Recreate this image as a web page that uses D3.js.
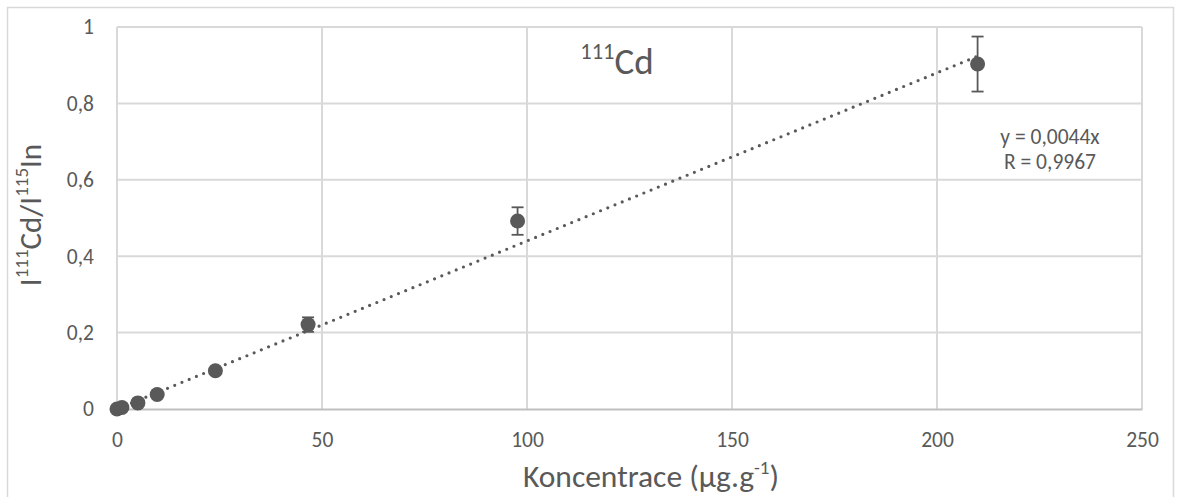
<!DOCTYPE html>
<html>
<head>
<meta charset="utf-8">
<script src="https://cdn.jsdelivr.net/npm/d3@7/dist/d3.min.js"></script>
<style>
  html, body { margin: 0; padding: 0; background: #ffffff; }
  svg { display: block; }
  text { font-family: Carlito, Calibri, Lato, "Open Sans", sans-serif; fill: #595959; }
</style>
</head>
<body>
<svg id="chart" width="1177" height="497"></svg>
<script>
// Calibration data for 111Cd (ratio to 115In internal standard)
const concentration = [0, 1.2, 5.1, 9.8, 24.0, 46.6, 97.7, 209.9];
const ratio         = [0, 0.004, 0.016, 0.038, 0.100, 0.221, 0.492, 0.903];
const ratioError    = [0, 0.002, 0.003, 0.004, 0.006, 0.019, 0.036, 0.072];

// Linear fit through the origin
const slope = 0.0044;
const fitLabel = ["y = 0,0044x", "R = 0,9967"];

const xTicks = [0, 50, 100, 150, 200, 250];
const yTicks = [0, 0.2, 0.4, 0.6, 0.8, 1];

const ink = "#595959";
const gridColor = "#d9d9d9";
const axisColor = "#bfbfbf";
const tickFont = "21.5px";

const svg = d3.select("#chart");
const locale = d3.formatLocale({ decimal: ",", thousands: " ", grouping: [3], currency: ["", ""] });
const fmt = locale.format("~g");

const x = d3.scaleLinear().domain([0, 250]).range([117, 1142]);
const y = d3.scaleLinear().domain([0, 1]).range([409, 27]);

// Chart area frame
svg.append("rect")
  .attr("x", 7.5).attr("y", 7.5)
  .attr("width", 1166).attr("height", 520)
  .attr("fill", "#ffffff")
  .attr("stroke", gridColor).attr("stroke-width", 1.5);

// Gridlines
const grid = svg.append("g");
grid.selectAll("line.h").data(yTicks.filter(d => d > 0)).join("line")
  .attr("x1", x(0)).attr("x2", x(250))
  .attr("y1", d => y(d)).attr("y2", d => y(d))
  .attr("stroke", gridColor).attr("stroke-width", 2);
grid.selectAll("line.v").data(xTicks).join("line")
  .attr("x1", d => x(d)).attr("x2", d => x(d))
  .attr("y1", y(0)).attr("y2", y(1))
  .attr("stroke", gridColor).attr("stroke-width", 2);

// Axes
const xAxis = svg.append("g")
  .attr("transform", `translate(0,${y(0)})`)
  .call(d3.axisBottom(x).tickValues(xTicks).tickFormat(fmt).tickSize(0).tickPadding(23));
xAxis.select(".domain").attr("stroke", axisColor).attr("stroke-width", 2);
xAxis.selectAll("text").attr("font-size", tickFont).attr("fill", ink)
  .style("font-family", "Carlito, Calibri, Lato, sans-serif");

const yAxis = svg.append("g")
  .attr("transform", `translate(${x(0)},0)`)
  .call(d3.axisLeft(y).tickValues(yTicks).tickFormat(fmt).tickSize(0).tickPadding(23));
yAxis.select(".domain").remove();
yAxis.selectAll("text").attr("font-size", tickFont).attr("fill", ink)
  .style("font-family", "Carlito, Calibri, Lato, sans-serif");

// Trendline (round dotted)
const xMax = d3.max(concentration);
svg.append("line")
  .attr("x1", x(0)).attr("y1", y(0))
  .attr("x2", x(xMax)).attr("y2", y(slope * xMax))
  .attr("stroke", ink).attr("stroke-width", 3.2)
  .attr("stroke-linecap", "round")
  .attr("stroke-dasharray", "0 7.8");

// Error bars
const pts = concentration.map((c, i) => ({ c, r: ratio[i], e: ratioError[i] }));
const eb = svg.append("g").attr("stroke", ink).attr("stroke-width", 1.8);
pts.forEach(p => {
  if (p.e <= 0) return;
  eb.append("line").attr("x1", x(p.c)).attr("x2", x(p.c))
    .attr("y1", y(p.r - p.e)).attr("y2", y(p.r + p.e));
  [p.r - p.e, p.r + p.e].forEach(v => {
    eb.append("line").attr("x1", x(p.c) - 6).attr("x2", x(p.c) + 6)
      .attr("y1", y(v)).attr("y2", y(v));
  });
});

// Markers
svg.append("g").selectAll("circle").data(pts).join("circle")
  .attr("cx", d => x(d.c)).attr("cy", d => y(d.r))
  .attr("r", 7.5).attr("fill", ink);

// Chart title
const title = svg.append("text")
  .attr("x", 617).attr("y", 74)
  .attr("text-anchor", "middle")
  .attr("font-size", "37px");
title.append("tspan").attr("font-size", "22.5px").attr("dy", -15).text("111");
title.append("tspan").attr("dy", 15).text("Cd");

// Fit equation
svg.append("text")
  .attr("x", 1050).attr("y", 144)
  .attr("text-anchor", "middle")
  .attr("font-size", tickFont)
  .selectAll("tspan").data(fitLabel).join("tspan")
  .attr("x", 1050).attr("dy", (d, i) => i === 0 ? 0 : 25)
  .text(d => d);

// X axis title
const xt = svg.append("text")
  .attr("x", 651).attr("y", 487)
  .attr("text-anchor", "middle")
  .attr("font-size", "31.5px");
xt.append("tspan").text("Koncentrace (µg.g");
xt.append("tspan").attr("font-size", "19px").attr("dy", -13).text("-1");
xt.append("tspan").attr("dy", 13).text(")");

// Y axis title
const yt = svg.append("text")
  .attr("transform", "translate(41,215) rotate(-90)")
  .attr("text-anchor", "middle")
  .attr("font-size", "31px");
yt.append("tspan").text("I");
yt.append("tspan").attr("font-size", "19px").attr("dy", -13).text("111");
yt.append("tspan").attr("dy", 13).text("Cd/I");
yt.append("tspan").attr("font-size", "19px").attr("dy", -13).text("115");
yt.append("tspan").attr("dy", 13).text("In");
</script>
</body>
</html>
